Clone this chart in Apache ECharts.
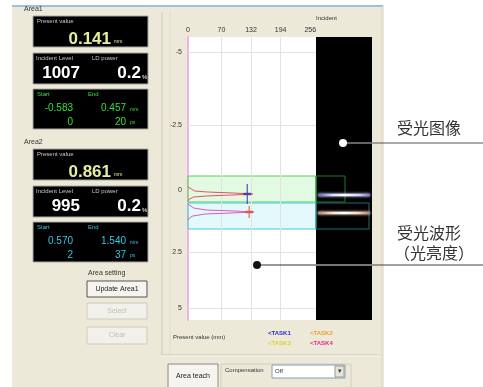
<!DOCTYPE html>
<html>
<head>
<meta charset="utf-8">
<script src="https://cdn.jsdelivr.net/npm/echarts@6/dist/echarts.min.js"></script>
<style>
  html, body { margin: 0; padding: 0; }
  #main { width: 483px; height: 387px; }
</style>
</head>
<body>
<div id="main"></div>
<script>
// axis ticks
const xTicks = [0, 70, 132, 194, 256];
const yTickRows = [15, 88, 153, 215, 271];
const yTickLabels = ["-5", "-2.5", "0", "2.5", "5"];

// received light waveforms (intensity per row)
const wave1Rows = [150, 152, 154, 155, 156, 157, 158, 159, 160, 162, 164];
const wave1Vals = [0, 4, 14, 40, 95, 136, 92, 38, 12, 3, 0];
const wave2Rows = [167, 169, 171, 173, 174, 175, 176, 177, 179, 181, 183];
const wave2Vals = [0, 3, 12, 38, 96, 138, 90, 36, 10, 3, 0];

// measure markers (TASK1, TASK2)
const markerX = [124, 128];
const markerRow = [157, 175];
const markerHalf = [10, 6];

// areas: [startRow, endRow], right edge column in image
const areaRows = [[139, 165], [166, 192]];
const areaImgCols = [29, 53];

// bright lines in received image
const stripeRows = [158, 176];

// panel readouts
const presentValues = ["0.141", "0.861"];
const incidentLevels = ["1007", "995"];
const ldPower = ["0.2", "0.2"];
const startMm = ["-0.583", "0.570"];
const endMm = ["0.457", "1.540"];
const startPx = ["0", "2"];
const endPx = ["20", "37"];

const chart = echarts.init(document.getElementById("main"));

const SANS = "'Liberation Sans', Arial, sans-serif";
const CJK = "'Noto Sans CJK SC', sans-serif";

function rect(x, y, w, h, fill, stroke, z) {
  return { type: "rect", shape: { x: x, y: y, width: w, height: h }, z: z || 1,
    style: { fill: fill || "none", stroke: stroke || null, lineWidth: 1 } };
}
function text(x, y, s, font, fill, align, z) {
  return { type: "text", z: z || 2, style: { x: x, y: y, text: s, font: font, fill: fill,
    textAlign: align || "left", textVerticalAlign: "middle" } };
}
function line(x1, y1, x2, y2, color, w, z) {
  return { type: "line", z: z || 1, shape: { x1: x1, y1: y1, x2: x2, y2: y2 },
    style: { stroke: color, lineWidth: w || 1 } };
}

const graphics = [
  rect(0, 0, 12, 387, "#fff"),
  rect(0, 0, 483, 5, "#fff"),
  rect(384, 0, 99, 387, "#fff"),
  line(12, 6, 383, 6, "#86aee6", 1.5),
  line(382, 6, 382, 387, "#d8d5c6", 1),
  line(162, 12, 162, 355, "#cfcbb8", 1),
  line(170, 12, 170, 355, "#dedbca", 1),
  line(162, 355, 380, 355, "#c8c4b0", 1),
  line(162, 356, 380, 356, "#fbfaf4", 1)
];

// left readout panels
[0, 1].forEach(function (i) {
  const dy = i * 133;
  const col = i === 0 ? "#36e036" : "#2ec8e6";
  graphics.push(text(24, 9 + dy, "Area" + (i + 1), "7px " + SANS, "#333"));
  graphics.push(rect(33, 16 + dy, 115, 31, "#000", "#a8a8a0"));
  graphics.push(text(37, 21 + dy, "Present value", "6px " + SANS, "#c8c8c8"));
  graphics.push(text(111, 39 + dy, presentValues[i], "bold 17px " + SANS, "#e8ee9a", "right"));
  graphics.push(text(114, 42 + dy, "mm", "5px " + SANS, "#e8ee9a"));
  graphics.push(rect(33, 53 + dy, 115, 31, "#000", "#a8a8a0"));
  graphics.push(text(36, 58 + dy, "Incident Level", "6px " + SANS, "#c8c8c8"));
  graphics.push(text(92, 58 + dy, "LD power", "6px " + SANS, "#c8c8c8"));
  graphics.push(text(80, 73 + dy, incidentLevels[i], "bold 17px " + SANS, "#fff", "right"));
  graphics.push(text(141, 73 + dy, ldPower[i], "bold 17px " + SANS, "#fff", "right"));
  graphics.push(text(142, 77 + dy, "%", "6px " + SANS, "#fff"));
  graphics.push(rect(33, 89 + dy, 115, 40, "#000", "#a8a8a0"));
  graphics.push(text(37, 94 + dy, "Start", "6px " + SANS, col));
  graphics.push(text(88, 94 + dy, "End", "6px " + SANS, col));
  graphics.push(text(73, 108 + dy, startMm[i], "10px " + SANS, col, "right"));
  graphics.push(text(126, 108 + dy, endMm[i], "10px " + SANS, col, "right"));
  graphics.push(text(130, 110 + dy, "mm", "5px " + SANS, col));
  graphics.push(text(73, 122 + dy, startPx[i], "10px " + SANS, col, "right"));
  graphics.push(text(126, 122 + dy, endPx[i], "10px " + SANS, col, "right"));
  graphics.push(text(130, 123 + dy, "px", "5px " + SANS, col));
});

// buttons
graphics.push(text(88, 273, "Area setting", "7px " + SANS, "#333"));
graphics.push(rect(87, 281, 60, 16, "#f5f4ef", "#555"));
graphics.push(text(117, 289, "Update Area1", "7px " + SANS, "#222", "center"));
graphics.push(rect(87, 303, 60, 16, "#f1f0ea", "#cfccbd"));
graphics.push(text(117, 311, "Select", "7px " + SANS, "#c4c1b2", "center"));
graphics.push(rect(87, 327, 60, 17, "#f1f0ea", "#cfccbd"));
graphics.push(text(117, 335, "Clear", "7px " + SANS, "#c4c1b2", "center"));

// chart panel texts
graphics.push(text(316, 18, "Incident", "6px " + SANS, "#333"));
graphics.push(text(173, 337, "Present value (mm)", "6px " + SANS, "#333"));
graphics.push(text(268, 333, "<TASK1", "bold 6px " + SANS, "#2828e0"));
graphics.push(text(310, 333, "<TASK2", "bold 6px " + SANS, "#f0a028"));
graphics.push(text(268, 343, "<TASK3", "bold 6px " + SANS, "#e0d030"));
graphics.push(text(310, 343, "<TASK4", "bold 6px " + SANS, "#e82888"));
graphics.push(rect(168, 364, 50, 24, "#f5f4ef", "#8a8a80"));
graphics.push(text(193, 376, "Area teach", "7px " + SANS, "#222", "center"));
graphics.push(rect(221, 364, 130, 24, null, "#d2cebd"));
graphics.push(text(225, 370, "Compensation", "6px " + SANS, "#333"));
graphics.push(rect(272, 365, 73, 13, "#fff", "#7f9db9"));
graphics.push(text(275, 371, "Off", "6px " + SANS, "#333"));
graphics.push(rect(335, 366, 9, 11, "#e4e3dc", "#9a9a90"));
graphics.push(text(339.5, 371.5, "▾", "7px " + SANS, "#333", "center"));

// callouts
graphics.push(line(343, 143, 372, 143, "#c8c8c8", 1, 100));
graphics.push(line(372, 143, 483, 143, "#555", 1, 100));
graphics.push({ type: "circle", z: 101, shape: { cx: 343, cy: 143, r: 4 }, style: { fill: "#fff" } });
graphics.push(line(257, 265, 316, 265, "#333", 1, 100));
graphics.push(line(316, 265, 372, 265, "#eee", 1, 100));
graphics.push(line(372, 265, 483, 265, "#444", 1, 100));
graphics.push({ type: "circle", z: 101, shape: { cx: 257, cy: 265, r: 4 }, style: { fill: "#111" } });
graphics.push(text(397, 128, "受光图像", "16px " + CJK, "#333", "left", 100));
graphics.push(text(397, 233, "受光波形", "16px " + CJK, "#333", "left", 100));
graphics.push(text(394, 253, "（光亮度）", "16px " + CJK, "#333", "left", 100));

const series = [
  {
    type: "line", xAxisIndex: 0, yAxisIndex: 0, symbol: "none", z: 5,
    data: wave1Rows.map(function (r, i) { return [wave1Vals[i], r]; }),
    lineStyle: { color: "#e8506a", width: 1 },
    markLine: {
      silent: true, symbol: ["none", "none"], label: { show: false },
      lineStyle: { color: "#e2e2e2", type: "solid", width: 1 },
      data: xTicks.slice(1, 4).map(function (v) { return { xAxis: v }; })
        .concat(yTickRows.filter(function (r, i) { return i !== 2; }).map(function (r) { return { yAxis: r }; }))
    },
    markArea: {
      silent: true,
      data: [
        [{ xAxis: 0, yAxis: areaRows[0][0], itemStyle: { color: "rgba(200,246,200,0.55)", borderColor: "#5ccc5c", borderWidth: 1 } }, { xAxis: 268, yAxis: areaRows[0][1] }],
        [{ xAxis: 0, yAxis: areaRows[1][0], itemStyle: { color: "rgba(206,244,250,0.55)", borderColor: "#44c8dc", borderWidth: 1 } }, { xAxis: 268, yAxis: areaRows[1][1] }]
      ]
    }
  },
  {
    type: "line", xAxisIndex: 0, yAxisIndex: 0, symbol: "none", z: 5,
    data: wave2Rows.map(function (r, i) { return [wave2Vals[i], r]; }),
    lineStyle: { color: "#dc58c4", width: 1 }
  }
];

const markerColors = ["#3a34a8", "#e05030"];
markerX.forEach(function (x, i) {
  series.push({
    type: "line", xAxisIndex: 0, yAxisIndex: 0, symbol: "none", z: 6,
    data: [[x, markerRow[i] - markerHalf[i]], [x, markerRow[i] + markerHalf[i]]],
    lineStyle: { color: markerColors[i], width: 1 }
  });
  series.push({
    type: "line", xAxisIndex: 0, yAxisIndex: 0, symbol: "none", z: 6,
    data: [[x - 8, markerRow[i]], [x + 8, markerRow[i]]],
    lineStyle: { color: markerColors[i], width: 2.5, opacity: 0.8 }
  });
});

// received image: area frames and bright lines
series.push({
  type: "line", xAxisIndex: 1, yAxisIndex: 1, symbol: "none", data: [],
  markArea: {
    silent: true,
    data: [
      [{ xAxis: 0, yAxis: areaRows[0][0], itemStyle: { color: "transparent", borderColor: "#1e7a2a", borderWidth: 1 } }, { xAxis: areaImgCols[0], yAxis: areaRows[0][1] }],
      [{ xAxis: 0, yAxis: areaRows[1][0], itemStyle: { color: "transparent", borderColor: "#1e6e70", borderWidth: 1 } }, { xAxis: areaImgCols[1], yAxis: areaRows[1][1] }]
    ]
  }
});
const stripeColors = [
  ["#4848b0", "#dcdcff", "#ffffff", "#d8d8ff", "#6060c0"],
  ["#b07050", "#ffe4cc", "#ffffff", "#ffd8c0", "#a06070"]
];
stripeRows.forEach(function (r, i) {
  const c = stripeColors[i];
  series.push({
    type: "line", xAxisIndex: 1, yAxisIndex: 1, symbol: "none", z: 4,
    data: [[2, r], [54, r]],
    lineStyle: {
      width: 2.5, shadowBlur: 3, shadowColor: c[1],
      color: new echarts.graphic.LinearGradient(0, 0, 1, 0, [
        { offset: 0, color: c[0] }, { offset: 0.3, color: c[1] }, { offset: 0.5, color: c[2] },
        { offset: 0.75, color: c[3] }, { offset: 1, color: c[4] }
      ])
    }
  });
});

const option = {
  backgroundColor: "#ece9d9",
  animation: false,
  graphic: graphics,
  grid: [
    { left: 188, top: 37, width: 128, height: 283, show: true, backgroundColor: "#fff", borderWidth: 0 },
    { left: 316, top: 37, width: 56, height: 283, show: true, backgroundColor: "#000", borderWidth: 0 }
  ],
  xAxis: [
    {
      type: "value", gridIndex: 0, min: 0, max: 268, position: "top",
      axisLine: { show: false }, axisTick: { show: false }, splitLine: { show: false },
      axisLabel: { customValues: xTicks, fontSize: 7, color: "#333", margin: 3, fontFamily: "Liberation Sans" }
    },
    { type: "value", gridIndex: 1, min: 0, max: 56, show: false }
  ],
  yAxis: [
    {
      type: "value", gridIndex: 0, min: 0, max: 283, inverse: true,
      axisLine: { show: true, lineStyle: { color: "#eab4ea", width: 2 } },
      axisTick: { show: false }, splitLine: { show: false },
      axisLabel: {
        customValues: yTickRows, fontSize: 7, color: "#333", margin: 6, fontFamily: "Liberation Sans",
        formatter: function (v) { return yTickLabels[yTickRows.indexOf(v)]; }
      }
    },
    { type: "value", gridIndex: 1, min: 0, max: 283, inverse: true, show: false }
  ],
  series: series
};
chart.setOption(option);
</script>
</body>
</html>
